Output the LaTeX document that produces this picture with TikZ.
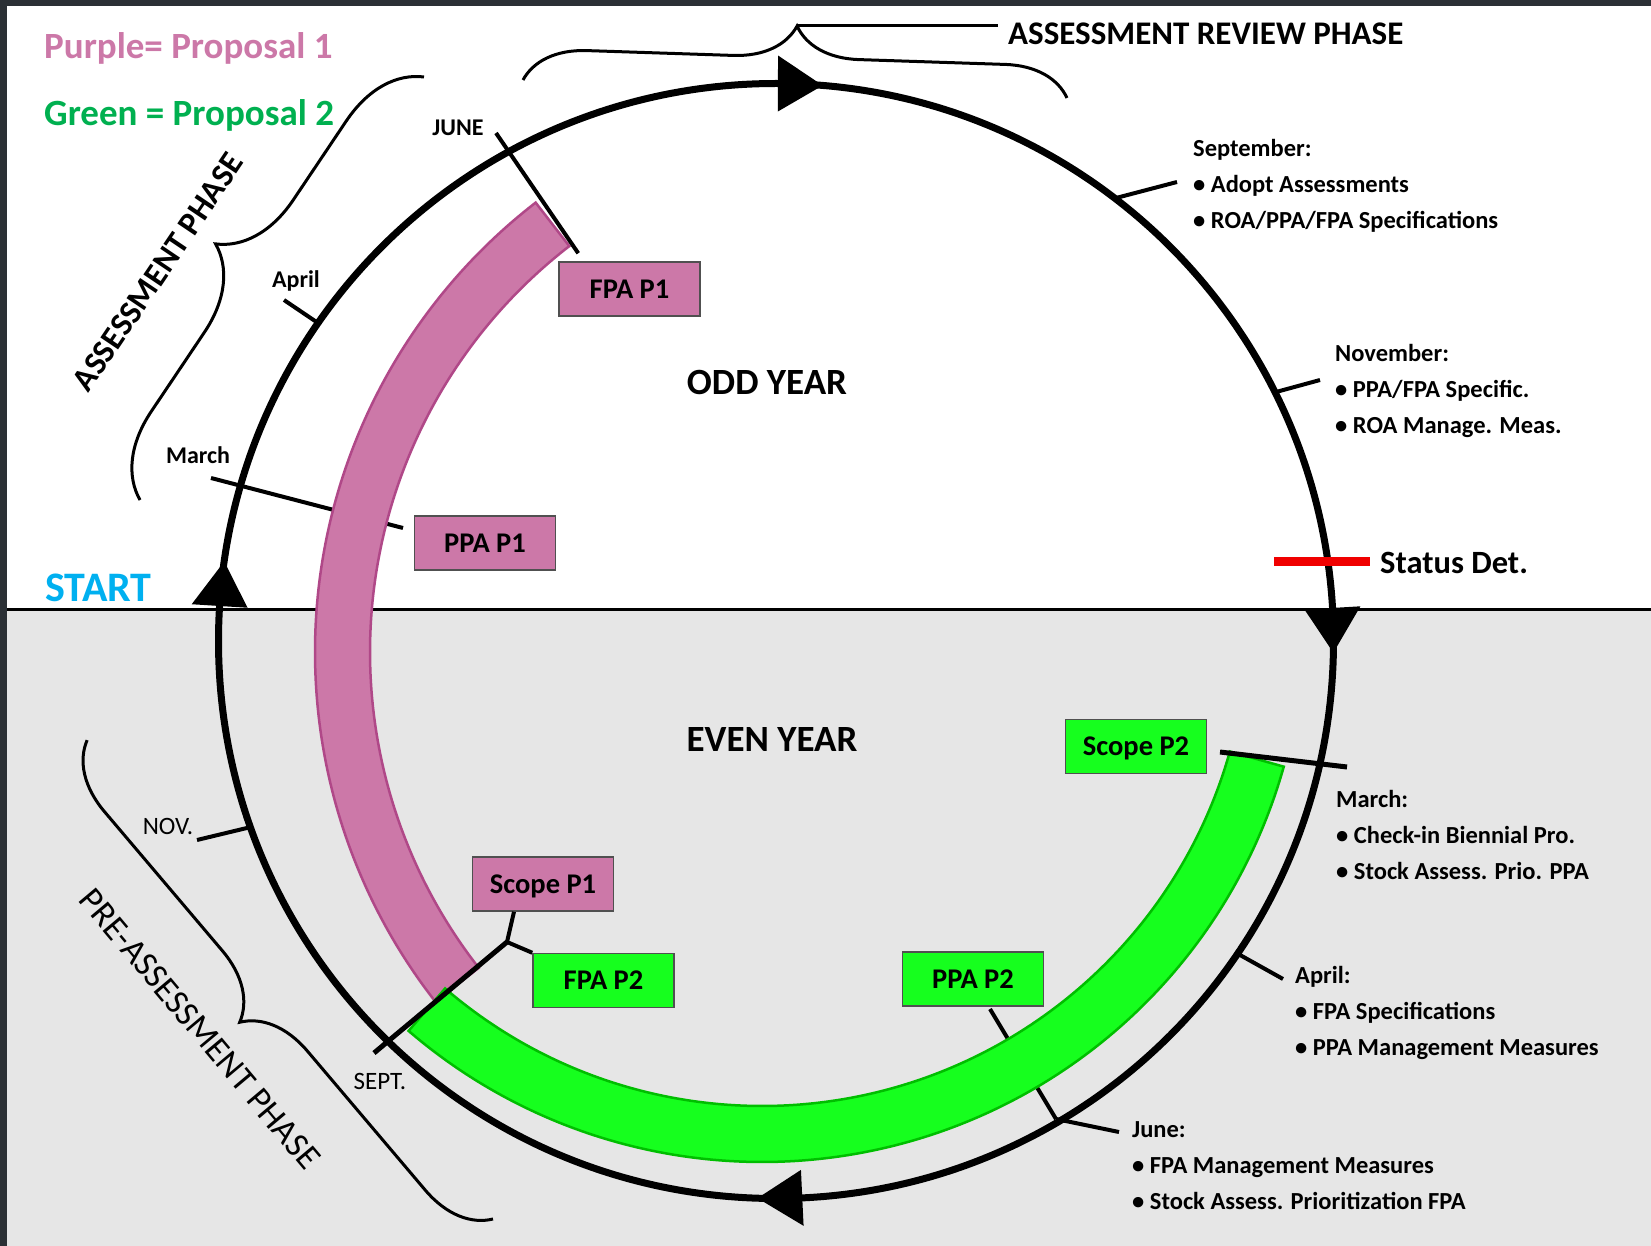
\documentclass[tikz,border=0pt]{standalone}
\usepackage{fontspec}
\setmainfont{Carlito}
\usetikzlibrary{decorations.pathreplacing}

\definecolor{propone}{RGB}{204,120,168}
\definecolor{proponeline}{RGB}{176,72,136}
\definecolor{proptwo}{RGB}{22,255,30}
\definecolor{proptwoline}{RGB}{0,190,0}
\definecolor{legendgreen}{RGB}{0,176,80}
\definecolor{startblue}{RGB}{0,176,240}
\definecolor{statusred}{RGB}{240,0,0}
\definecolor{evengrey}{RGB}{230,230,230}
\definecolor{frame}{RGB}{43,48,53}
\definecolor{boxline}{RGB}{80,80,80}

\tikzset{
  ring/.style={line width=7pt},
  tick/.style={line width=4pt},
  bigtick/.style={line width=5pt},
  bracket/.style={line width=3pt, decorate, decoration={brace, amplitude=#1}},
  phasebox/.style={draw=boxline, line width=1.5pt, minimum width=141pt, minimum height=54pt,
    inner sep=0pt, text height=18.4pt, text depth=0pt, font=\fontsize{28.5}{32}\selectfont\bfseries},
  oneboxstyle/.style={phasebox, fill=propone},
  twoboxstyle/.style={phasebox, fill=proptwo},
  legend/.style={inner sep=0pt, anchor=base west, font=\fontsize{37}{40}\selectfont\bfseries},
  yearlabel/.style={inner sep=0pt, anchor=base, font=\fontsize{37}{40}\selectfont\bfseries},
  month/.style={inner sep=0pt, anchor=base, font=\fontsize{24}{28}\selectfont\bfseries},
  monthreg/.style={inner sep=0pt, anchor=base, font=\fontsize{25}{28}\selectfont},
  note/.style={align=left, anchor=north west, inner sep=0pt, font=\fontsize{24.5}{36}\selectfont\bfseries}
}

\begin{document}
\begin{tikzpicture}[x=1pt, y=-1pt]
\useasboundingbox (0,0) rectangle (1651,1246);
% Odd year and even year halves
    \fill[white] (0,0) rectangle (1651,609);
    \fill[evengrey] (0,609) rectangle (1651,1246);
    \fill[frame] (0,0) rectangle (1651,6);
    \fill[frame] (0,0) rectangle (7,1246);
    \draw[line width=3pt] (7,609) -- (1651,609);
% Ticks that run behind the bands
    \draw[tick] (211,478) -- (403,528);
    \draw[tick] (990,1009) -- (1056,1119);
% Proposal 1 band
\begin{scope}[shift={(883,652)}]
    \filldraw[fill=propone, draw=proponeline, line width=2.5pt]
      (142:568) arc[start angle=142, end angle=232.3, radius=568]
      -- (232.3:513) arc[start angle=232.3, end angle=142, radius=513] -- cycle;
\end{scope}
% Proposal 2 band
\begin{scope}[shift={(762,620)}]
    \filldraw[fill=proptwo, draw=proptwoline, line width=2.5pt]
      (15.7:542) arc[start angle=15.7, end angle=130.7, radius=542]
      -- (130.7:486) arc[start angle=130.7, end angle=15.7, radius=486] -- cycle;
\end{scope}
% Year cycle with its arrow heads
\begin{scope}[shift={(776,641)}]
    \draw[ring] (0,0) circle[radius=557.5];
    \foreach \a in {-85.2,1.2,91.9,188.2}
      \fill (\a:557.5) -- ({\a-4.6}:529.5) -- ({\a-4.6}:585.5) -- cycle;
\end{scope}
% Boxes
    \node[oneboxstyle] (fpa1) at (629.5,289) {FPA P1};
    \node[oneboxstyle] (ppa1) at (485,543) {PPA P1};
    \node[oneboxstyle] (scope1) at (543,884) {Scope P1};
    \node[twoboxstyle] (fpa2) at (603.5,980.5) {FPA P2};
    \node[twoboxstyle] (ppa2) at (973,979) {PPA P2};
    \node[twoboxstyle] (scope2) at (1136,746.5) {Scope P2};
% Month ticks, odd year
    \draw[tick] (284,300) -- (318,323);
    \draw[tick] (496,133) -- ([xshift=20pt,yshift=8pt]fpa1.north west);
    \draw[tick] (1116,198) -- (1177,182);
    \draw[tick] (1276,392) -- (1320,380);
    \draw[line width=9pt, statusred] (1274,561.5) -- (1370,561.5);
% Month ticks, even year
    \coordinate (fork) at (507,942);
    \draw[tick] (197,840) -- (251,827);
    \draw[bigtick] (374,1053) -- (fork);
    \draw[tick] (fork) -- ([xshift=-29pt]scope1.south);
    \draw[tick] (fork) -- (fpa2.north west);
    \draw[bigtick] (1220,752) -- (1347,767);
    \draw[tick] (1240,955) -- (1283,979);
    \draw[tick] (1056,1119) -- (1119,1132);
% Braces
    \draw[bracket=63pt] (523,80) -- (1067,98);
    \draw[line width=3pt] (797,26) -- (998,26);
    \draw[bracket=80pt] (140,500) -- (424,77);
    \draw[bracket=66pt] (493,1219) -- (87,740);
% Labels
    \node[legend, text=propone] (legone) at (44,59) {Purple= Proposal 1};
    \node[legend, text=legendgreen] (legtwo) at (44,126) {Green = Proposal 2};
    \node[legend, text=startblue, font=\fontsize{42}{46}\selectfont\bfseries] (start) at (45,601) {START};
    \node[yearlabel] (odd) at (767,394) {ODD YEAR};
    \node[yearlabel] (even) at (772,751) {EVEN YEAR};
    \node[legend, font=\fontsize{32.5}{36}\selectfont\bfseries] (status) at (1380,573.5) {Status Det.};
    \node[legend, font=\fontsize{33}{36}\selectfont\bfseries] (review) at (1008,44.6) {ASSESSMENT REVIEW PHASE};
    \node[rotate=56, inner sep=0pt, font=\fontsize{33}{36}\selectfont\bfseries] (assess) at (158,272) {ASSESSMENT PHASE};
    \node[rotate=-50, inner sep=0pt, font=\fontsize{35}{38}\selectfont] (preassess) at (200,1029) {PRE-ASSESSMENT PHASE};
    \node[month] (june) at (458,136) {JUNE};
    \node[month] (april) at (296,288) {April};
    \node[month] (march) at (198,463) {March};
    \node[monthreg] (nov) at (168,834) {NOV.};
    \node[monthreg] (sept) at (380,1089) {SEPT.};
% Notes on the right
    \node[note] (sepnote) at (1193,139) {September:\\• Adopt Assessments\\• ROA/PPA/FPA Specifications};
    \node[note] (novnote) at (1335,344) {November:\\• PPA/FPA Specific.\\• ROA Manage. Meas.};
    \node[note] (marnote) at (1336,790) {March:\\• Check-in Biennial Pro.\\• Stock Assess. Prio. PPA};
    \node[note] (aprnote) at (1295,966) {April:\\• FPA Specifications\\• PPA Management Measures};
    \node[note] (junnote) at (1132,1121) {June:\\• FPA Management Measures\\• Stock Assess. Prioritization FPA};
\end{tikzpicture}
\end{document}
